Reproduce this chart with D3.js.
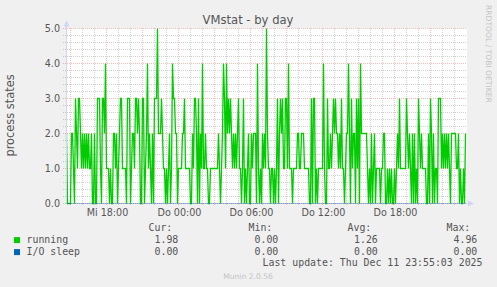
<!DOCTYPE html>
<html>
<head>
<meta charset="utf-8">
<script src="https://cdn.jsdelivr.net/npm/d3@7"></script>
<style>
  body { margin: 0; background: #f0f0f0; }
  svg { display: block; }
  text { font-family: "DejaVu Sans", sans-serif; fill: #555; }
  .mono { font-family: "DejaVu Sans Mono", monospace; }
</style>
</head>
<body>
<svg id="chart" width="497" height="287"></svg>
<script>
// munin VMstat, day view: 400 samples of 5 minutes
const lastSample = new Date(2025, 11, 11, 23, 55, 0);
const stepMs = 300 * 1000;

const running = [
  2,0,0,0,0,2,2,1,0,3, 2,1,3,3,2,1,2,1,2,1, 2,1,2,1,1,2,0,0,2,0, 0,3,3,3,1,0,3,3,2,4,
  1,1,1,0,1,0,0,2,2,1, 2,0,1,2,3,3,1,1,1,1, 0,3,3,3,0,1,2,2,1,3, 3,2,3,2,0,0,3,3,0,1,
  2,4,1,2,1,0,2,0,3,3, 3,5,2,2,2,3,2,1,1,0, 1,0,1,2,0,1,4,3,3,2, 2,0,1,1,1,1,2,2,3,1,
  1,1,1,1,0,0,2,1,3,3, 2,0,3,0,2,1,4,1,1,2, 1,1,0,0,1,1,1,1,1,1, 1,1,2,1,0,1,2,4,3,1,
  4,2,3,2,3,2,1,2,1,2, 1,2,3,1,1,0,1,3,0,1, 0,1,2,0,0,2,1,2,2,2, 0,4,1,0,1,0,2,1,2,1,
  5,2,1,1,0,1,1,0,1,0, 1,3,0,2,3,2,3,1,1,3, 3,1,4,1,1,1,0,1,1,1, 1,2,2,1,1,2,2,2,1,1,
  1,1,1,0,0,3,0,3,3,0, 1,0,1,1,1,1,1,4,1,0, 0,3,1,1,2,1,2,3,2,3, 2,2,1,2,1,3,1,1,0,1,
  2,2,4,2,0,3,1,2,2,0, 3,1,3,0,4,2,2,2,2,2, 2,1,0,1,0,2,0,1,2,0, 1,1,1,1,0,1,1,2,2,0,
  0,1,0,1,0,1,0,0,1,0, 1,2,1,3,1,1,1,1,1,1, 3,2,1,2,1,0,2,0,2,0, 1,0,3,2,1,2,1,1,1,1,
  0,0,2,0,3,2,0,2,0,1, 1,0,3,3,3,1,2,1,2,1, 2,1,2,1,0,2,2,2,2,2, 1,1,2,0,1,0,0,1,0,2
];

const ioSleep = [
  0,0,0,0,0,0,0,0,0,0,0,0,0,0,0,0,0,0,0,0,0,0,0,0,0,0,0,0,0,0,0,0,0,0,0,0,0,0,0,0,
  0,0,0,0,0,0,0,0,0,0,0,0,0,0,0,0,0,0,0,0,0,0,0,0,0,0,0,0,0,0,0,0,0,0,0,0,0,0,0,0,
  0,0,0,0,0,0,0,0,0,0,0,0,0,0,0,0,0,0,0,0,0,0,0,0,0,0,0,0,0,0,0,0,0,0,0,0,0,0,0,0,
  0,0,0,0,0,0,0,0,0,0,0,0,0,0,0,0,0,0,0,0,0,0,0,0,0,0,0,0,0,0,0,0,0,0,0,0,0,0,0,0,
  0,0,0,0,0,0,0,0,0,0,0,0,0,0,0,0,0,0,0,0,0,0,0,0,0,0,0,0,0,0,0,0,0,0,0,0,0,0,0,0,
  0,0,0,0,0,0,0,0,0,0,0,0,0,0,0,0,0,0,0,0,0,0,0,0,0,0,0,0,0,0,0,0,0,0,0,0,0,0,0,0,
  0,0,0,0,0,0,0,0,0,0,0,0,0,0,0,0,0,0,0,0,0,0,0,0,0,0,0,0,0,0,0,0,0,0,0,0,0,0,0,0,
  0,0,0,0,0,0,0,0,0,0,0,0,0,0,0,0,0,0,0,0,0,0,0,0,0,0,0,0,0,0,0,0,0,0,0,0,0,0,0,0,
  0,0,0,0,0,0,0,0,0,0,0,0,0,0,0,0,0,0,0,0,0,0,0,0,0,0,0,0,0,0,0,0,0,0,0,0,0,0,0,0,
  0,0,0,0,0,0,0,0,0,0,0,0,0,0,0,0,0,0,0,0,0,0,0,0,0,0,0,0,0,0,0,0,0,0,0,0,0,0,0,0
];

const yTicks = [0, 1, 2, 3, 4, 5];
const dayNames = ["So", "Mo", "Di", "Mi", "Do", "Fr", "Sa"];

const seriesNames = ["running", "I/O sleep"];
const seriesColors = ["#00cc00", "#0066b3"];
const legendHeads = ["Cur:", "Min:", "Avg:", "Max:"];
const curVals = ["1.98", "0.00"];
const minVals = ["0.00", "0.00"];
const avgVals = ["1.26", "0.00"];
const maxVals = ["4.96", "0.00"];

const svg = d3.select("#chart");
const times = running.map((d, i) => new Date(lastSample.getTime() - (running.length - 1 - i) * stepMs));
const start = new Date(lastSample.getTime() - running.length * stepMs);

const x = d3.scaleTime().domain([start, lastSample]).range([65.5, 465.5]);
const y = d3.scaleLinear().domain([0, 5]).range([203.5, 28.5]);
const crisp = v => Math.round(v - 0.5) + 0.5;

// canvas
svg.append("rect").attr("x", 66).attr("y", 28).attr("width", 401).attr("height", 176).attr("fill", "#fff");

// grid
const minorGrid = "rgba(140,140,140,0.4)";
const majorGrid = "rgba(255,0,0,0.27)";
const minorY = d3.range(0, 25).map(d => d / 5).filter(d => d % 1 !== 0);
svg.append("g").selectAll("line").data(minorY).join("line")
  .attr("x1", 63).attr("x2", 467)
  .attr("y1", d => crisp(y(d))).attr("y2", d => crisp(y(d)))
  .attr("stroke", minorGrid).attr("stroke-dasharray", "1,1");

const hours = d3.timeHour.every(1).range(start, lastSample);
svg.append("g").selectAll("line").data(hours.filter(d => d.getHours() % 3 !== 0)).join("line")
  .attr("x1", d => crisp(x(d))).attr("x2", d => crisp(x(d)))
  .attr("y1", 28).attr("y2", 206)
  .attr("stroke", minorGrid).attr("stroke-dasharray", "1,1");

svg.append("g").selectAll("line").data(yTicks).join("line")
  .attr("x1", 63).attr("x2", 467)
  .attr("y1", d => y(d)).attr("y2", d => y(d))
  .attr("stroke", majorGrid).attr("stroke-dasharray", "1,1");

svg.append("g").selectAll("line").data(hours.filter(d => d.getHours() % 3 === 0)).join("line")
  .attr("x1", d => crisp(x(d))).attr("x2", d => crisp(x(d)))
  .attr("y1", 28).attr("y2", 206)
  .attr("stroke", majorGrid).attr("stroke-dasharray", "1,1");

// axis labels
svg.append("g").selectAll("text").data(yTicks).join("text")
  .attr("x", 60).attr("y", d => y(d) + 3.4)
  .attr("text-anchor", "end").attr("font-size", 9.6)
  .text(d => d.toFixed(1));

svg.append("g").selectAll("text").data(hours.filter(d => d.getHours() % 6 === 0)).join("text")
  .attr("x", d => x(d) + 1).attr("y", 216)
  .attr("text-anchor", "middle").attr("font-size", 9.6)
  .text(d => dayNames[d.getDay()] + " " + d3.timeFormat("%H:%M")(d));

// data
const line = d3.line().x((d, i) => x(times[i])).y(d => y(d));
svg.append("path").datum(running).attr("d", line)
  .attr("fill", "none").attr("stroke", seriesColors[0]).attr("stroke-width", 1.3);

// axes + arrows
svg.append("line").attr("x1", 66.5).attr("x2", 66.5).attr("y1", 204).attr("y2", 24)
  .attr("stroke", "#cfd6f8");
svg.append("path").attr("d", "M63.5,26.5 L66.5,20.5 L69.5,26.5 Z").attr("fill", "#cfd6f8");
svg.append("path").datum(ioSleep).attr("d", line)
  .attr("fill", "none").attr("stroke", seriesColors[1]).attr("stroke-opacity", 0.45).attr("stroke-width", 1);
svg.append("line").attr("x1", 466).attr("x2", 469).attr("y1", 203.5).attr("y2", 203.5)
  .attr("stroke", "#cfd6f8");
svg.append("path").attr("d", "M468,200.5 L474,203.5 L468,206.5 Z").attr("fill", "#cfd6f8");

// titles
svg.append("text").attr("x", 248).attr("y", 24).attr("text-anchor", "middle")
  .attr("font-size", 11.6).text("VMstat - by day");
svg.append("text").attr("transform", "translate(14,115.5) rotate(-90)")
  .attr("text-anchor", "middle").attr("font-size", 11.4).text("process states");
svg.append("text").attr("transform", "translate(486,5) rotate(90)")
  .attr("font-size", 7.6).style("fill", "#c4c4c4").text("RRDTOOL / TOBI OETIKER");

// legend
const headX = [148.5, 248.5, 347.5, 446.5];
svg.append("g").selectAll("text").data(legendHeads).join("text")
  .attr("class", "mono").attr("x", (d, i) => headX[i]).attr("y", 230.7)
  .attr("font-size", 9.9).text(d => d);

const valX = [154.5, 254.5, 354, 453.5];
seriesNames.forEach((name, r) => {
  const rowY = 242.7 + r * 12;
  svg.append("rect").attr("x", 14).attr("y", rowY - 5.6).attr("width", 6).attr("height", 6)
    .attr("fill", seriesColors[r]);
  svg.append("text").attr("class", "mono").attr("x", 26.5).attr("y", rowY)
    .attr("font-size", 9.9).text(name);
  [curVals, minVals, avgVals, maxVals].forEach((col, c) => {
    svg.append("text").attr("class", "mono").attr("x", valX[c]).attr("y", rowY)
      .attr("font-size", 9.9).text(col[r]);
  });
});

svg.append("text").attr("class", "mono").attr("x", 482.5).attr("y", 266.3)
  .attr("text-anchor", "end").attr("font-size", 9.9)
  .text("Last update: Thu Dec 11 23:55:03 2025");
svg.append("text").attr("x", 248).attr("y", 278.7).attr("text-anchor", "middle")
  .attr("font-size", 7.6).style("fill", "#c4c4c4").text("Munin 2.0.56");
</script>
</body>
</html>
